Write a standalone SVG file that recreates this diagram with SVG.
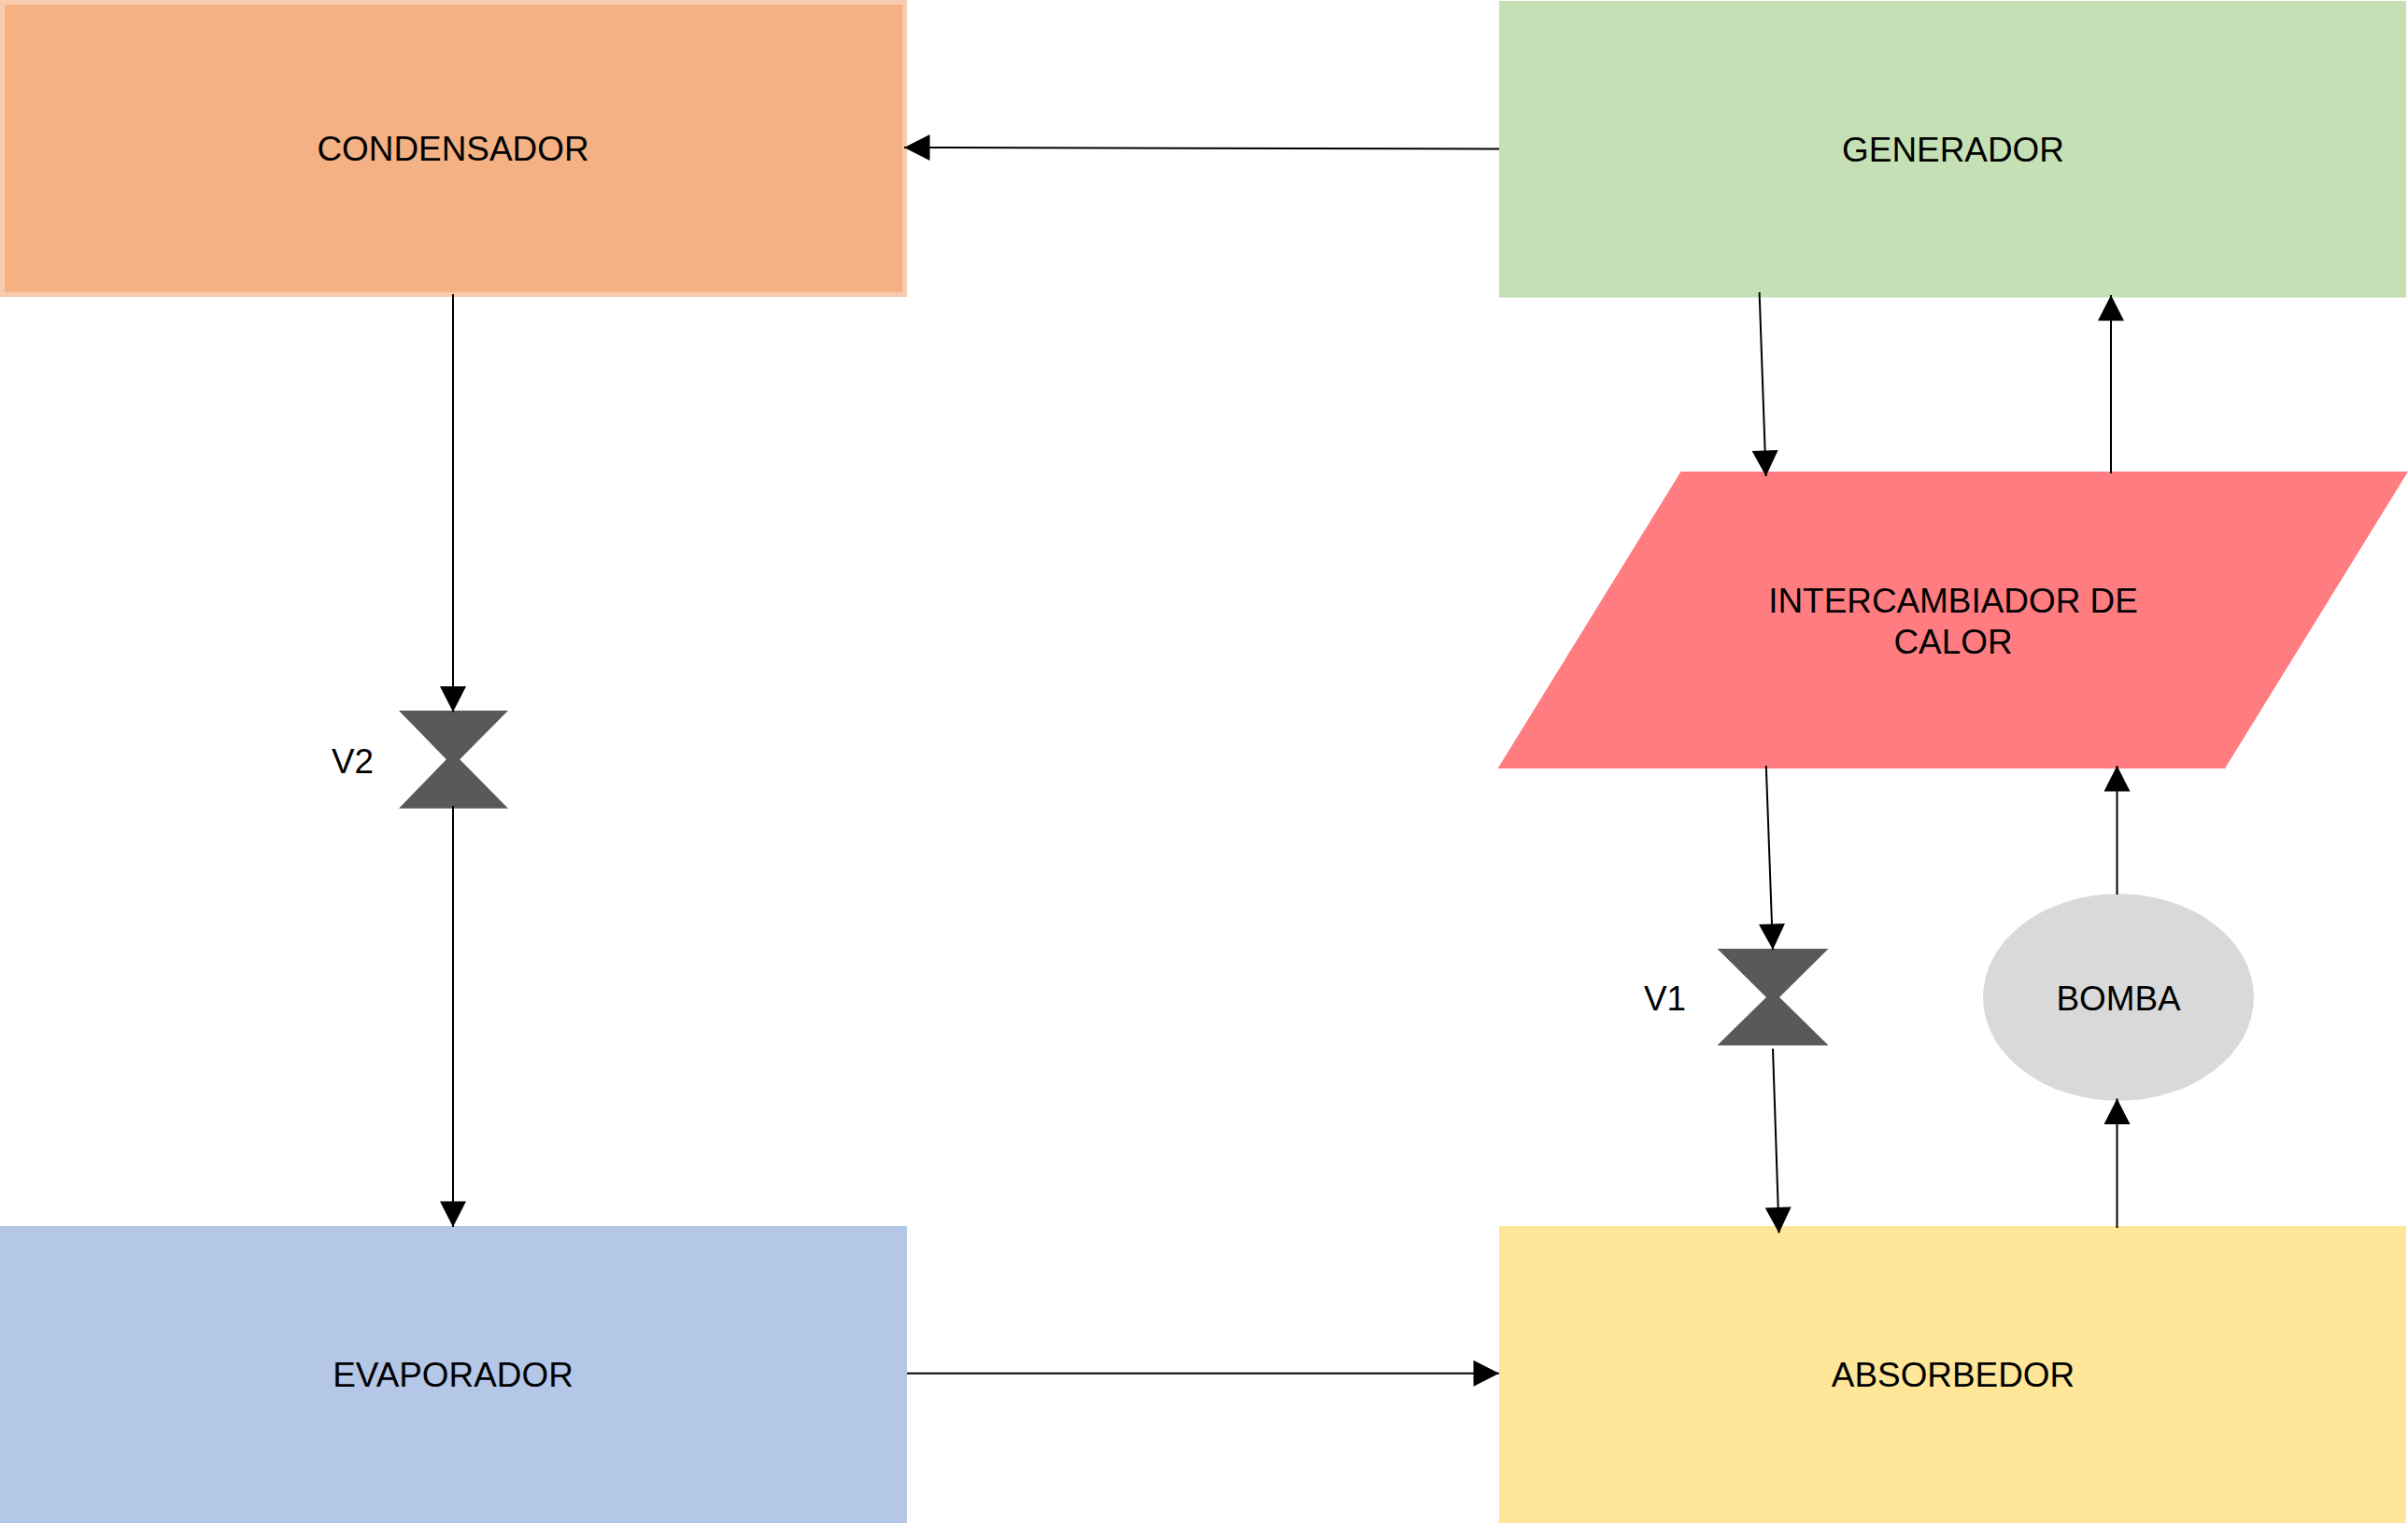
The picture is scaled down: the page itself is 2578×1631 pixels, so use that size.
<svg xmlns="http://www.w3.org/2000/svg" width="2578" height="1631" viewBox="0 0 2578 1631">
<style>
text{font-family:"Liberation Sans",Arial,sans-serif;font-size:36.9px;fill:#000;text-anchor:middle}
.c{fill:none;stroke:#000;stroke-width:2;marker-end:url(#a)}
.v{fill:#595959}
</style>
<defs>
<marker id="a" markerUnits="userSpaceOnUse" markerWidth="28" markerHeight="28" refX="27.500" refY="14" orient="auto" overflow="visible"><path d="M0 0L27.500 14L0 28Z" fill="#000"/></marker>
</defs>
<g id="condensador"><rect x="2.5" y="2.5" width="966" height="313" fill="#F4B183" stroke="#F8CBAD" stroke-width="5"/><text x="485" y="172">CONDENSADOR</text></g>
<g id="generador"><rect x="1605" y="1" width="971" height="317.600" fill="#C5E0B4"/><text x="2091" y="172.500">GENERADOR</text></g>
<g id="intercambiador"><polygon points="1799.500,505 2578,505 2382,823 1603.500,823" fill="#FF7C80"/><text x="2091" y="655.500">INTERCAMBIADOR DE</text><text x="2091" y="699.500">CALOR</text></g>
<g id="evaporador"><rect x="0" y="1313" width="971" height="318" fill="#B4C7E7"/><text x="485" y="1484.500">EVAPORADOR</text></g>
<g id="absorbedor"><rect x="1605" y="1313" width="971" height="318" fill="#FFE699"/><text x="2091" y="1484.500">ABSORBEDOR</text></g>
<g id="bomba"><ellipse cx="2268" cy="1068" rx="145" ry="110.800" fill="#D9D9D9"/><text x="2268" y="1082">BOMBA</text></g>
<g id="v2"><polygon class="v" points="427,761 544,761 489,816.500 481,816.500"/><polygon class="v" points="427,865.700 544,865.700 489,810 481,810"/><text x="377.500" y="827.500">V2</text></g>
<g id="v1"><polygon class="v" points="1838.500,1016 1957.500,1016 1902,1071 1894,1071"/><polygon class="v" points="1838.500,1119.600 1957.500,1119.600 1902,1065 1894,1065"/><text x="1782.500" y="1082">V1</text></g>
<g id="connectors">
<line class="c" x1="1605" y1="159.500" x2="968" y2="158"/>
<line class="c" x1="485" y1="315" x2="485" y2="762.500"/>
<line class="c" x1="485" y1="863" x2="485" y2="1314"/>
<line class="c" x1="971" y1="1470.700" x2="1605" y2="1470.700"/>
<line class="c" x1="1883.600" y1="313" x2="1890.600" y2="510"/>
<line class="c" x1="2260" y1="507" x2="2260" y2="316"/>
<line class="c" x1="1890.800" y1="820" x2="1898" y2="1017"/>
<line class="c" x1="1898" y1="1123" x2="1904.600" y2="1320.400"/>
<line class="c" x1="2266.500" y1="1315" x2="2266.500" y2="1176.500"/>
<line class="c" x1="2266.500" y1="958" x2="2266.500" y2="820"/>
</g>
</svg>
